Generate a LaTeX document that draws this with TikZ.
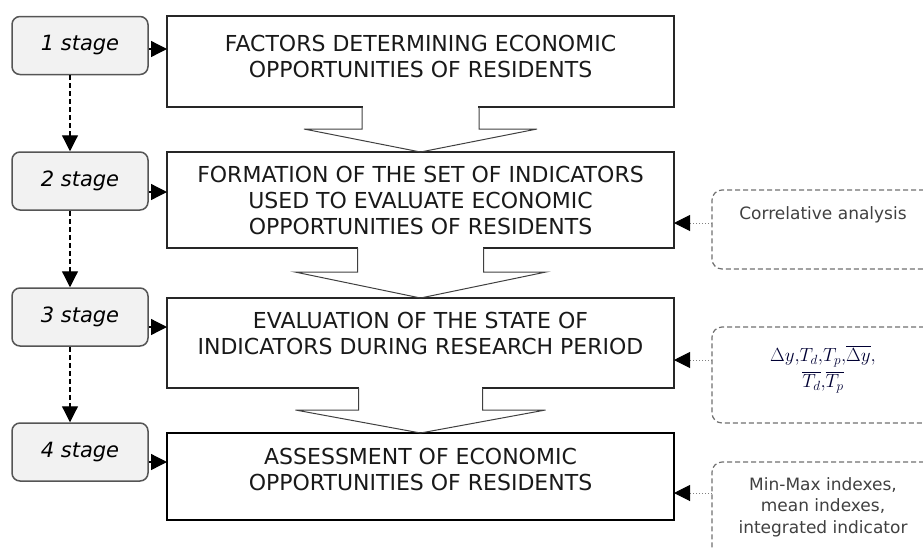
\RequirePackage{fix-cm}
\documentclass[tikz,border=0pt]{standalone}
\usepackage[no-math]{fontspec}
\setmainfont{DejaVu Sans}
\usepackage{amsmath}
\usetikzlibrary{arrows.meta,calc}

\definecolor{stagefill}{HTML}{F2F2F2}
\definecolor{stageline}{HTML}{555555}
\definecolor{notegray}{HTML}{707070}
\definecolor{notetext}{HTML}{404040}

% arrow-shaped link under a box: upper box, lower box, notch, wing, depth
\newcommand{\chevron}[5]{%
    \fill[white] ($(#1.south)+(-#3+0.6,-2)$) rectangle ($(#1.south)+(#3-0.6,2)$);
    \draw[chevline] ($(#1.south)+(-#3,0)$) -- ($(#1.south)+(-#3,#5)$) -- ($(#1.south)+(-#4,#5)$)
        -- (#2.north) -- ($(#1.south)+(#4,#5)$) -- ($(#1.south)+(#3,#5)$) -- ($(#1.south)+(#3,0)$);
}

\begin{document}
\begin{tikzpicture}[x=1pt,y=-1pt]
        \tikzstyle{stage}=[draw=stageline, fill=stagefill, line width=1.5pt, rounded corners=8pt, minimum width=136pt, minimum height=58pt, inner sep=0pt, font=\fontsize{21}{25}\selectfont\itshape]
        \tikzstyle{mainbox}=[draw=black!85, line width=1.3pt, minimum width=507pt, inner sep=0pt, outer sep=0pt]
        \tikzstyle{boxtext}=[align=center, inner sep=0pt, font=\fontsize{22}{26}\selectfont, text=black!90]
        \tikzstyle{note}=[draw=notegray, line width=1.2pt, dash pattern=on 5pt off 3pt, rounded corners=10pt, minimum width=222pt, inner sep=0pt, outer sep=0pt]
        \tikzstyle{notetxt}=[align=center, inner sep=0pt, font=\fontsize{17}{21.5}\selectfont, text=notetext]
        \tikzstyle{chevline}=[draw=black!75, line width=1pt, line join=miter]
        \tikzstyle{stagearrow}=[-{Triangle[length=16pt,width=16pt]}, line width=1.3pt]
        \tikzstyle{nextarrow}=[-{Triangle[length=16pt,width=16pt]}, line width=1.2pt, dash pattern=on 5pt off 3pt]
        \tikzstyle{notearrow}=[-{Triangle[length=16pt,width=16pt,color=black]}, draw=gray, line width=1pt, dotted]

        \useasboundingbox (0,0) rectangle (923,547);
        \clip (0,0) rectangle (923,547);

        % stages
        \node (s1) [stage] at (80,45.5) {1 stage};
        \node (s2) [stage] at (80,181) {2 stage};
        \node (s3) [stage] at (80,317) {3 stage};
        \node (s4) [stage] at (80,452) {4 stage\hspace{16pt}};

        % main boxes
        \node (f1) [mainbox, minimum height=91pt, label={[boxtext, yshift=5.5pt]center:{FACTORS DETERMINING ECONOMIC\\OPPORTUNITIES OF RESIDENTS}}] at (420.5,61.5) {};
        \node (f2) [mainbox, minimum height=96pt, label={[boxtext]center:{FORMATION OF THE SET OF INDICATORS\\USED TO EVALUATE ECONOMIC\\OPPORTUNITIES OF RESIDENTS}}] at (420.5,200) {};
        \node (f3) [mainbox, minimum height=90pt, label={[boxtext, yshift=9.5pt]center:{EVALUATION OF THE STATE OF\\INDICATORS DURING RESEARCH PERIOD}}] at (420.5,343) {};
        \node (f4) [mainbox, minimum height=87pt, line width=2.2pt, draw=black, label={[boxtext, yshift=7.5pt]center:{ASSESSMENT OF ECONOMIC\\OPPORTUNITIES OF RESIDENTS}}] at (420.5,476.5) {};

        \chevron{f1}{f2}{58.5}{116.5}{22}
        \chevron{f2}{f3}{63}{125.5}{24}
        \chevron{f3}{f4}{62}{125}{22}

        % methods
        \node (n2) [note, minimum height=79pt, label={[notetxt, yshift=14.5pt]center:{Correlative analysis}}] at (823,229.5) {};
        \node (n3) [note, minimum height=96pt, label={[notetxt, yshift=6pt, text=black!80!blue, font=\fontsize{19}{26}\selectfont]center:{$\Delta y{,}T_d{,}T_p{,}\overline{\Delta y}{,}$\\$\overline{T_d}{,}\overline{T_p}$}}] at (823,375) {};
        \node (n4) [note, minimum height=96pt, label={[notetxt, yshift=3pt]center:{Min-Max indexes,\\mean indexes,\\integrated indicator}}] at (823,510) {};

        \draw[stagearrow] ([yshift=-3.5pt]s1.east) -- ([yshift=-3.5pt]s1.east -| f1.west);
        \draw[stagearrow] ([yshift=-11pt]s2.east) -- ([yshift=-11pt]s2.east -| f2.west);
        \draw[stagearrow] ([yshift=-10pt]s3.east) -- ([yshift=-10pt]s3.east -| f3.west);
        \draw[stagearrow] ([yshift=-10pt]s4.east) -- ([yshift=-10pt]s4.east -| f4.west);

        \draw[nextarrow] ([xshift=-10pt]s1.south) -- ([xshift=-10pt]s2.north);
        \draw[nextarrow] ([xshift=-10pt]s2.south) -- ([xshift=-10pt]s3.north);
        \draw[nextarrow] ([xshift=-10pt]s3.south) -- ([xshift=-10pt]s4.north);

        \draw[notearrow] ([yshift=6.5pt]n2.west) -- ([yshift=6.5pt]n2.west -| f2.east);
        \draw[notearrow] ([yshift=15pt]n3.west) -- ([yshift=15pt]n3.west -| f3.east);
        \draw[notearrow] ([yshift=17pt]n4.west) -- ([yshift=17pt]n4.west -| f4.east);

    \end{tikzpicture}
\end{document}
